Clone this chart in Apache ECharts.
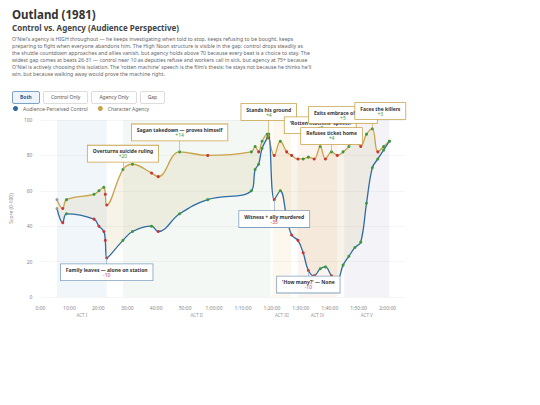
<!DOCTYPE html>
<html>
<head>
<meta charset="utf-8">
<script src="https://cdn.jsdelivr.net/npm/echarts@6/dist/echarts.min.js"></script>
<style>
  body { margin: 0; width: 540px; height: 405px; background: #fff; font-family: "Noto Sans", sans-serif; overflow: hidden; }
  #head { position: absolute; left: 12px; top: 8px; width: 300px; }
  h1 { margin: 0; font-size: 11.5px; line-height: 14px; color: #333; font-weight: bold; }
  h2 { margin: 0 0 3px 0; font-size: 8px; line-height: 11px; color: #444; font-weight: bold; }
  p { margin: 0; font-size: 5.2px; line-height: 7px; color: #666; }
  .btns { margin-top: 4px; }
  .btns span { display: inline-block; font-size: 5px; line-height: 7px; color: #555; border: 1px solid #ddd; border-radius: 2px; padding: 2px 7px; margin-right: 3px; }
  .btns span.on { border-color: #7ea1c7; background: #eef4fb; color: #2b5b8c; font-weight: bold; }
  #container { position: absolute; left: 0; top: 98px; width: 540px; height: 232px; }
</style>
</head>
<body>
<div id="head">
  <h1>Outland (1981)</h1>
  <h2>Control vs. Agency (Audience Perspective)</h2>
  <p>O'Niel's agency is HIGH throughout — he keeps investigating when told to stop, keeps refusing to be bought, keeps preparing to fight when everyone abandons him. The High Noon structure is visible in the gap: control drops steadily as the shuttle countdown approaches and allies vanish, but agency holds above 70 because every beat is a choice to stay. The widest gap comes at beats 26-31 — control near 10 as deputies refuse and workers call in sick, but agency at 75+ because O'Niel is actively choosing this isolation. The 'rotten machine' speech is the film's thesis: he stays not because he thinks he'll win, but because walking away would prove the machine right.</p>
  <div class="btns"><span class="on">Both</span><span>Control Only</span><span>Agency Only</span><span>Gap</span></div>
</div>
<div id="container"></div>
<script>
// beat times in minutes
var times = [5.7, 7.7, 9, 18.5, 20.2, 21.9, 22.4, 22.9, 28.5, 31.8, 38.4, 40.7, 48.1, 57.8,
  72.9, 74.2, 75.4, 76.6, 78.4, 78.9, 80.8, 82.9, 85.1, 86.8, 89, 90.8, 92.6, 94.6, 96.7,
  98.5, 100.6, 102.6, 104.6, 106.6, 108.7, 110.7, 112.7, 114.7, 116.6, 118.6, 120.6];
var control = [50, 42, 47, 44, 40, 37, 32, 22, 32, 37, 40, 37, 47, 55,
  60, 72, 75, 84, 90, 92, 55, 60, 45, 35, 32, 25, 15, 12, 16,
  17, 12, 10, 18, 23, 28, 31, 53, 73, 78, 83, 88];
var agency = [55, 50, 55, 58, 60, 62, 58, 52, 72, 75, 70, 68, 82, 80,
  82, 85, 82, 88, 92, 90, 80, 88, 82, 80, 78, 78, 79, 78, 85,
  78, 82, 80, 82, 85, 90, 85, 92, 95, 82, 85, 88];
var acts = [
  { name: 'ACT I', from: 5.7, to: 22.9, color: 'rgba(120,170,220,0.10)' },
  { name: 'ACT II', from: 28.5, to: 79.5, color: 'rgba(150,190,150,0.10)' },
  { name: 'ACT III', from: 80.3, to: 86.6, color: 'rgba(240,210,140,0.16)' },
  { name: 'ACT IV', from: 88.9, to: 102.6, color: 'rgba(235,170,130,0.13)' },
  { name: 'ACT V', from: 105, to: 120.6, color: 'rgba(170,160,200,0.13)' }
];
// annotations: series, beat index, title, delta, box value, label shift (px)
var notes = [
  { s: 'a', i: 8, title: 'Overturns suicide ruling', delta: '+20', box: 81, dx: 0, up: 0 },
  { s: 'a', i: 12, title: 'Sagan takedown — proves himself', delta: '+14', box: 93, dx: 0, up: 0 },
  { s: 'c', i: 7, title: 'Family leaves — alone on station', delta: '-10', box: 14, dx: 0, up: 0 },
  { s: 'a', i: 19, title: 'Stands his ground', delta: '+4', box: 100, dx: 0, up: 8 },
  { s: 'c', i: 20, title: 'Witness + ally murdered', delta: '-35', box: 44, dx: 0, up: 0 },
  { s: 'c', i: 26, title: "'How many?' — None", delta: '-10', box: 7, dx: 0, up: 0 },
  { s: 'a', i: 28, title: "'Rotten machine' speech", delta: '+7', box: 97, dx: 0, up: 0 },
  { s: 'a', i: 30, title: 'Refuses ticket home', delta: '+4', box: 91, dx: 0, up: 0 },
  { s: 'a', i: 33, title: 'Exits embrace of safety', delta: '+5', box: 100, dx: -6, up: 5 },
  { s: 'a', i: 37, title: 'Faces the killers', delta: '+3', box: 100, dx: 8, up: 9 }
];

function pts(vals) {
  return vals.map(function (v, i) {
    var col = i === 0 ? '#999' : (v >= vals[i - 1] ? '#3a9a3a' : '#cc3333');
    return { value: [times[i], v], itemStyle: { color: col } };
  });
}
function fmt(m) {
  var h = Math.floor(m / 60), mm = m % 60;
  var s = (mm < 10 ? '0' : '') + mm;
  return h ? h + ':' + s + ':00' : mm + ':00';
}
function noteParts(key, color) {
  var vals = key === 'a' ? agency : control;
  var mp = [], ml = [];
  notes.filter(function (n) { return n.s === key; }).forEach(function (n) {
    var t = times[n.i];
    ml.push([{ coord: [t, vals[n.i]] }, { coord: [t, n.box] }]);
    mp.push({
      coord: [t, n.box], symbolSize: 0,
      label: {
        show: true, offset: [n.dx, -n.up],
        formatter: '{t|' + n.title + '}\n{d' + (n.delta[0] === '-' ? 'n' : 'p') + '|' + n.delta + '}',
        backgroundColor: '#fff', borderColor: color, borderWidth: 0.8, padding: [3, 5],
        rich: {
          t: { fontSize: 5, fontWeight: 'bold', color: '#333', align: 'center' },
          dp: { fontSize: 5, color: '#3a9a3a', align: 'center' },
          dn: { fontSize: 5, color: '#cc3333', align: 'center' }
        }
      }
    });
  });
  return {
    markPoint: { symbol: 'rect', data: mp, z: 10 },
    markLine: { symbol: 'none', silent: true, lineStyle: { color: color, width: 0.6, type: 'solid' }, label: { show: false }, data: ml }
  };
}

var myChart = echarts.init(document.getElementById('container'), null, { renderer: 'svg' });
var an = noteParts('a', '#c9a24a');
var cn = noteParts('c', '#7f9fc0');

var option = {
  animation: false,
  textStyle: { fontFamily: 'Noto Sans' },
  legend: {
    left: 8, top: 3, itemWidth: 5, itemHeight: 5, itemGap: 10, icon: 'circle',
    textStyle: { fontSize: 5, color: '#666' },
    data: ['Audience-Perceived Control', 'Character Agency']
  },
  grid: { left: 36, right: 135, top: 22, bottom: 33 },
  xAxis: {
    type: 'value', min: 0, max: 126, interval: 10,
    axisLine: { show: false }, axisTick: { show: false },
    splitLine: { show: false },
    axisLabel: { fontSize: 5, color: '#888', formatter: function (v) { return v > 120 ? '' : fmt(v); } }
  },
  yAxis: {
    type: 'value', min: 0, max: 100, interval: 20,
    name: 'Score (0-100)', nameLocation: 'middle', nameGap: 13, nameTextStyle: { fontSize: 5, color: '#888' },
    axisLine: { show: false }, axisTick: { show: false },
    splitLine: { lineStyle: { color: '#eee', width: 0.6 } },
    axisLabel: { fontSize: 5, color: '#888' }
  },
  series: [
    {
      name: 'gap', type: 'custom', silent: true, z: 1,
      data: [0],
      renderItem: function (params, api) {
        var top = agency.map(function (v, i) { return api.coord([times[i], v]); });
        var bot = control.map(function (v, i) { return api.coord([times[i], v]); }).reverse();
        return { type: 'polygon', shape: { points: top.concat(bot), smooth: 0.25 },
          style: { fill: 'rgba(205,180,120,0.16)' } };
      },
      markArea: {
        silent: true,
        data: acts.map(function (a) {
          return [{ xAxis: a.from, itemStyle: { color: a.color },
            label: { show: true, position: 'insideBottom', offset: [0, 25], formatter: a.name, fontSize: 4.5, color: '#999' } },
            { xAxis: a.to }];
        })
      }
    },
    {
      name: 'Character Agency', type: 'line', data: pts(agency), smooth: 0.4,
      symbol: 'circle', symbolSize: 3, showAllSymbol: true,
      itemStyle: { color: '#c9a24a' }, lineStyle: { color: '#c9a24a', width: 1.3 },
      markPoint: an.markPoint, markLine: an.markLine, z: 3
    },
    {
      name: 'Audience-Perceived Control', type: 'line', data: pts(control), smooth: 0.4,
      symbol: 'circle', symbolSize: 3, showAllSymbol: true,
      itemStyle: { color: '#2f6aa3' }, lineStyle: { color: '#2f6aa3', width: 1.3 },
      markPoint: cn.markPoint, markLine: cn.markLine, z: 3
    }
  ]
};
myChart.setOption(option);
window.addEventListener('resize', myChart.resize);
</script>
</body>
</html>
